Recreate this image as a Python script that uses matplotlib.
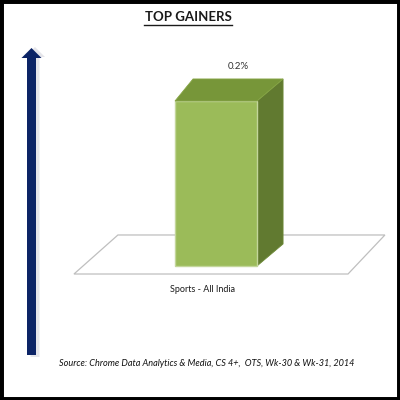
import matplotlib
matplotlib.use("Agg")
import matplotlib.pyplot as plt
from matplotlib.patches import Polygon, Rectangle, FancyArrow

# ---- data ----
categories = ["Sports - All India"]
values = [0.2]
value_labels = ["0.2%"]
title = "TOP GAINERS"
source = "Source: Chrome Data Analytics & Media, CS 4+,  OTS, Wk-30 & Wk-31, 2014"

FONT = ["Lato", "DejaVu Sans"]

fig = plt.figure(figsize=(4, 4), dpi=100)
fig.patch.set_facecolor("white")

# chart axes spanning the whole figure
ax = fig.add_axes([0, 0, 1, 1])
ax.set_xlim(-1.317, 1.122)
ax.set_ylim(-0.1624, 0.3224)
ax.axis("off")

# floor (pseudo-3D plane)
floor_front = -0.0097
floor_back = 0.0376
floor = Polygon([(-0.866, floor_front), (0.805, floor_front),
                 (1.030, floor_back), (-0.598, floor_back)],
                closed=True, fill=False, ec="#bfbfbf", lw=0.9, zorder=1)
ax.add_patch(floor)

# bars
width = 0.5
dxl, dxr, dy = 0.11, 0.159, 0.0267
xs = list(range(len(categories)))
bars = ax.bar(xs, values, width=width, color="#9bbb59",
              edgecolor="#c3d69b", linewidth=1.0, zorder=3)
for x, v, lab in zip(xs, values, value_labels):
    x0, x1 = x - width / 2, x + width / 2
    top = Polygon([(x0, v), (x1, v), (x1 + dxr, v + dy), (x0 + dxl, v + dy)],
                  closed=True, fc="#779639", ec="#86a544", lw=0.6, zorder=4)
    side = Polygon([(x1, 0), (x1 + dxr, dy), (x1 + dxr, v + dy), (x1, v)],
                   closed=True, fc="#617a30", ec="#6d8a37", lw=0.6, zorder=2)
    ax.add_patch(side)
    ax.add_patch(top)
    ax.text(x + 0.134, v + 0.0424, lab, ha="center", va="center",
            fontsize=7, family=FONT, color="#333333")
    ax.text(x - 0.08, -0.0279, categories[x], ha="center", va="center",
            fontsize=6.5, family=FONT, color="#1a1a1a")

# title with underline
t = fig.text(188 / 400, 1 - 17 / 400, title, ha="center", va="center",
             fontsize=9.5, fontweight="bold", family=FONT, color="#1a1a1a")
fig.lines.append(plt.Line2D([144 / 400, 232 / 400], [1 - 25 / 400, 1 - 25 / 400],
                            transform=fig.transFigure, color="#1a1a1a", lw=1.0))

# source
fig.text(207 / 400, 1 - 363 / 400, source, ha="center", va="center",
         fontsize=6.6, style="italic", family=FONT, color="#111111")

# arrow with shadow
shadow = FancyArrow(35 / 400, 43 / 400, 0, 310 / 400, width=9 / 400,
                    head_width=20 / 400, head_length=10 / 400,
                    length_includes_head=True, transform=fig.transFigure,
                    fc="#d4d4dc", ec="none", alpha=0.6)
fig.patches.append(shadow)
arrow = FancyArrow(31.5 / 400, 45 / 400, 0, 307 / 400, width=9 / 400,
                   head_width=20 / 400, head_length=10 / 400,
                   length_includes_head=True, transform=fig.transFigure,
                   fc="#0c2466", ec="none")
fig.patches.append(arrow)

# outer frame
fig.patches.append(Rectangle((0, 0), 1, 1, transform=fig.transFigure,
                             fill=False, ec="black", lw=5))

fig.savefig("out.png", dpi=100, facecolor="white")
